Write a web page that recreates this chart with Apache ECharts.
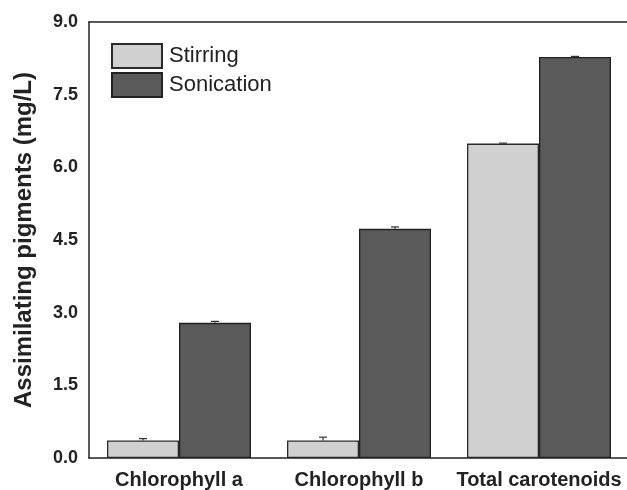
<!DOCTYPE html>
<html>
<head>
<meta charset="utf-8">
<script src="https://cdn.jsdelivr.net/npm/echarts@6/dist/echarts.min.js"></script>
<style>
  html, body { margin: 0; padding: 0; background: #fff; }
  #chart { width: 627px; height: 490px; }
</style>
</head>
<body>
<div id="chart"></div>
<script>
// Pigment categories and measured concentrations (mg/L)
const categories = ['Chlorophyll a', 'Chlorophyll b', 'Total carotenoids'];
const stirring = [0.36, 0.36, 6.49];
const sonication = [2.79, 4.73, 8.28];
// Standard deviations
const stirringErr = [0.04, 0.07, 0.01];
const sonicationErr = [0.03, 0.04, 0.01];
const yTicks = [0, 1.5, 3.0, 4.5, 6.0, 7.5, 9.0];

const FONT = '"Liberation Sans", Arial, sans-serif';
const BAR_FRAC = 0.4; // each bar is 40% of the category band

function errorSeries(name, values, errs, side) {
  return {
    type: 'custom',
    name: name + ' error',
    silent: true,
    z: 5,
    data: values.map((v, i) => [i, v, errs[i]]),
    renderItem: function (params, api) {
      const band = api.size([1, 0])[0];
      const c = api.coord([api.value(0), api.value(1)]);
      const x = c[0] + side * band * BAR_FRAC / 2;
      const top = api.coord([api.value(0), api.value(1) + api.value(2)])[1];
      const half = 4;
      const style = { stroke: '#333', lineWidth: 1.2 };
      return {
        type: 'group',
        children: [
          { type: 'line', shape: { x1: x, y1: c[1], x2: x, y2: top }, style: style },
          { type: 'line', shape: { x1: x - half, y1: top, x2: x + half, y2: top }, style: style }
        ]
      };
    }
  };
}

const chart = echarts.init(document.getElementById('chart'));
chart.setOption({
  animation: false,
  backgroundColor: '#fff',
  textStyle: { fontFamily: FONT },
  grid: { left: 89, right: -2, top: 22, bottom: 32, outerBoundsMode: 'none', containLabel: false },
  legend: {
    data: ['Stirring', 'Sonication'],
    orient: 'vertical',
    left: 111,
    top: 43,
    padding: 0,
    itemWidth: 50,
    itemHeight: 24,
    itemGap: 3,
    icon: 'rect',
    textStyle: { fontFamily: FONT, fontSize: 22, color: '#222', padding: [0, 0, 0, 2] }
  },
  xAxis: [{
    type: 'category',
    data: categories,
    axisLine: { lineStyle: { color: '#222', width: 1.5 } },
    axisTick: { show: false },
    axisLabel: { interval: 0, hideOverlap: false, fontFamily: FONT, fontSize: 20, fontWeight: 'bold', color: '#222', margin: 12 }
  }, {
    type: 'category',
    position: 'top',
    data: categories,
    axisLine: { lineStyle: { color: '#222', width: 1.5 } },
    axisTick: { show: false },
    axisLabel: { show: false }
  }],
  yAxis: {
    type: 'value',
    min: yTicks[0],
    max: yTicks[yTicks.length - 1],
    interval: 1.5,
    name: 'Assimilating pigments (mg/L)',
    nameLocation: 'middle',
    nameGap: 53,
    nameTextStyle: { fontFamily: FONT, fontSize: 24, fontWeight: 'bold', color: '#222' },
    axisLine: { show: true, lineStyle: { color: '#222', width: 1.5 } },
    axisTick: { show: false },
    splitLine: { show: false },
    axisLabel: {
      fontFamily: FONT, fontSize: 18, fontWeight: 'bold', color: '#222', margin: 11,
      formatter: v => v.toFixed(1)
    }
  },
  series: [
    {
      name: 'Stirring',
      type: 'bar',
      data: stirring,
      barGap: '0%',
      barCategoryGap: '20%',
      itemStyle: { color: '#d0d0d0', borderColor: '#2a2a2a', borderWidth: 1.3 }
    },
    {
      name: 'Sonication',
      type: 'bar',
      data: sonication,
      barGap: '0%',
      barCategoryGap: '20%',
      itemStyle: { color: '#5a5a5a', borderColor: '#222', borderWidth: 1.3 }
    },
    errorSeries('Stirring', stirring, stirringErr, -1),
    errorSeries('Sonication', sonication, sonicationErr, 1)
  ]
});
</script>
</body>
</html>
